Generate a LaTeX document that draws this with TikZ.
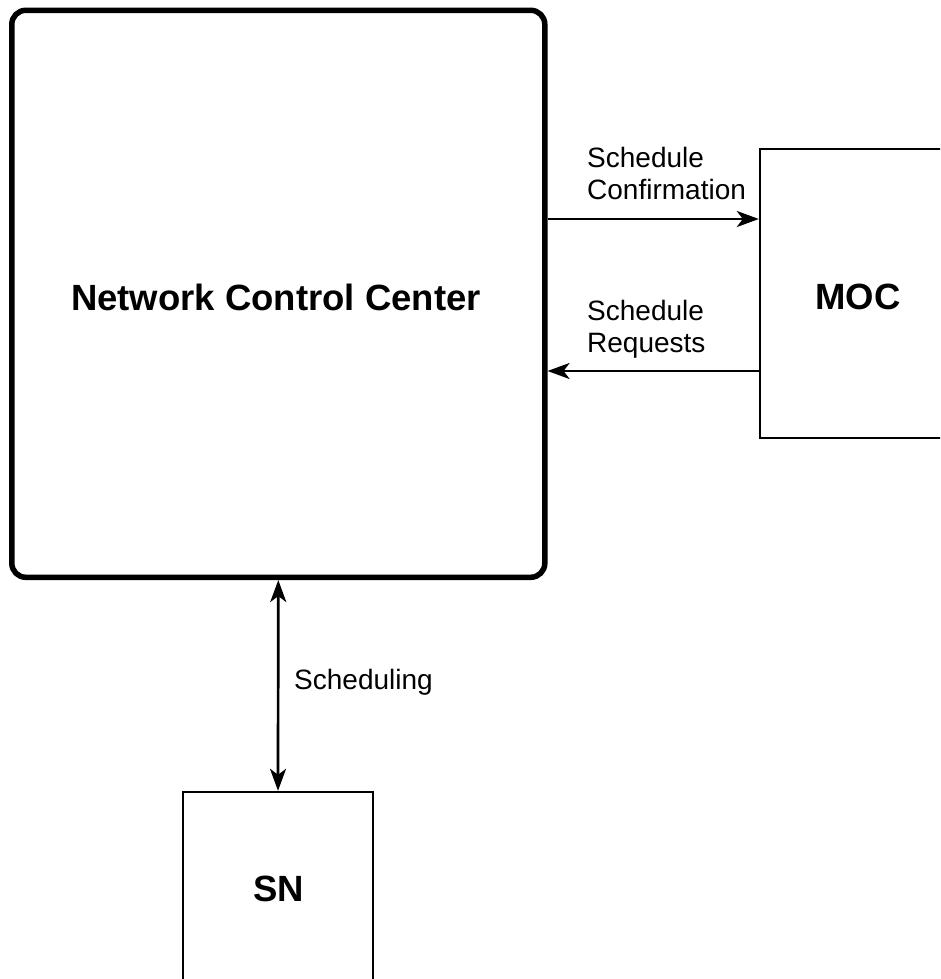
\documentclass[tikz,border=0pt]{standalone}
\usepackage{fontspec}
\setmainfont{Liberation Sans}
\usetikzlibrary{arrows.meta}
\tikzset{mytip/.tip={Stealth[length=22pt,width=16pt,inset=6pt]}}
\begin{document}
\begin{tikzpicture}[x=1pt,y=-1pt,
  bigbox/.style={draw,line width=5.5pt,rounded corners=14pt,minimum width=533pt,minimum height=567pt,inner sep=0pt},
  plainbox/.style={draw,line width=2.4pt,inner sep=0pt},
  boxtext/.style={font=\fontsize{36.5}{42}\selectfont\bfseries},
  lbl/.style={font=\fontsize{28}{32}\selectfont,align=left,inner sep=0pt},
  conn/.style={line width=2.7pt}]
\clip (0,0) rectangle (940,979);
\fill[white] (0,0) rectangle (940,979);
\node[bigbox] (ncc) at (278.3,293.8) {};
\node[boxtext] at (276,297) {Network Control Center};
\node[plainbox,minimum width=195pt,minimum height=289pt] (moc) at (857.5,293.5) {};
\node[boxtext] at (858,297) {MOC};
\node[plainbox,minimum width=190pt,minimum height=190pt] (sn) at (278,887) {};
\node[boxtext] at (278.5,889) {SN};
\draw[conn,-{mytip}] (ncc.east |- 0,219) -- (moc.west |- 0,219);
\draw[conn,-{mytip}] (moc.west |- 0,371) -- (ncc.east |- 0,371);
\draw[conn,{mytip}-{mytip}] (ncc.south) -- (sn.north);
\node[lbl,anchor=base west] at (587,199) {Schedule\\Confirmation};
\node[lbl,anchor=base west] at (587,352) {Schedule\\Requests};
\node[lbl,anchor=base west] at (294,689) {Scheduling};
\end{tikzpicture}
\end{document}
